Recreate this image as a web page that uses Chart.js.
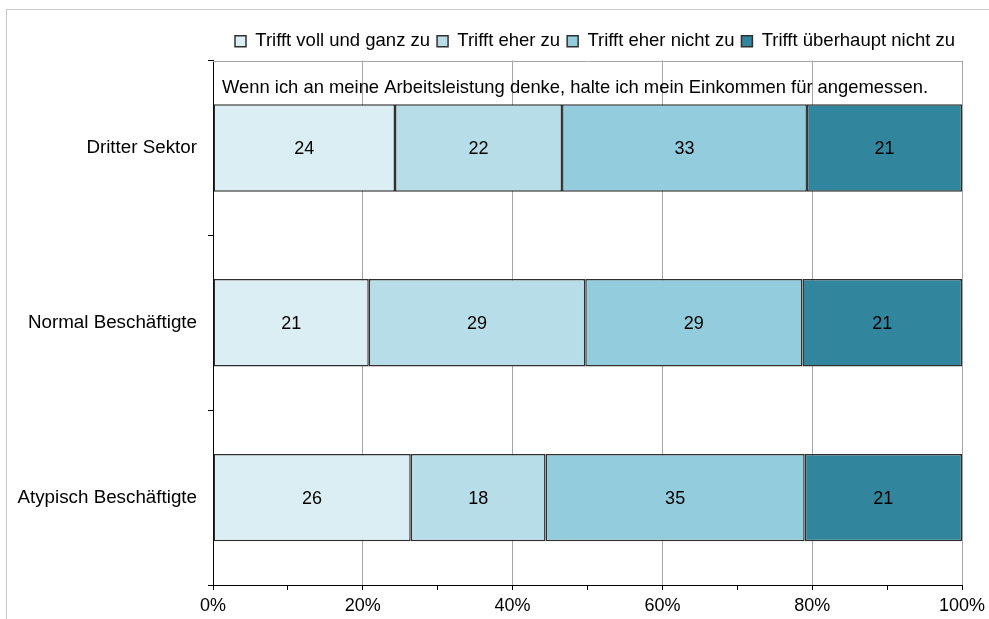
<!DOCTYPE html>
<html>
<head>
<meta charset="utf-8">
<script src="https://cdn.jsdelivr.net/npm/chart.js@4/dist/chart.umd.min.js"></script>
<style>
  html, body { margin: 0; padding: 0; background: #fff; }
  canvas { display: block; }
</style>
</head>
<body>
<canvas id="mycanvas" width="989" height="619"></canvas>
<script>
// categories and series (share in %)
var categories = ['Dritter Sektor', 'Normal Beschäftigte', 'Atypisch Beschäftigte'];
var seriesNames = ['Trifft voll und ganz zu', 'Trifft eher zu', 'Trifft eher nicht zu', 'Trifft überhaupt nicht zu'];
var vollUndGanz   = [24.3, 20.8, 26.4];
var eher          = [22.3, 28.9, 18.0];
var eherNicht     = [32.7, 29.0, 34.6];
var ueberhauptNicht = [20.7, 21.3, 21.0];
var seriesColors = ['#DBEEF3', '#B7DEE8', '#93CDDD', '#31859C'];
var xTicks = [0, 20, 40, 60, 80, 100];
var innerTitle = 'Wenn ich an meine Arbeitsleistung denke, halte ich mein Einkommen für angemessen.';

var FONT = '"Liberation Sans", Arial, sans-serif';

var seriesData = [vollUndGanz, eher, eherNicht, ueberhauptNicht];
var datasets = seriesNames.map(function(name, i) {
  return {
    label: name,
    data: seriesData[i],
    backgroundColor: seriesColors[i],
    borderColor: '#303030',
    borderWidth: 1.5,
    borderSkipped: false,
    barPercentage: 0.5,
    categoryPercentage: 1
  };
});

// frame, top border of plot area, inner title and value labels
var extras = {
  id: 'extras',
  beforeDraw: function(chart) {
    var c = chart.ctx;
    c.save();
    c.fillStyle = '#fff';
    c.fillRect(0, 0, chart.width, chart.height);
    c.strokeStyle = '#c8c8c8';
    c.lineWidth = 1;
    c.strokeRect(6.5, 9.5, chart.width + 20, chart.height + 20);
    c.restore();
  },
  beforeDatasetsDraw: function(chart) {
    var c = chart.ctx, a = chart.chartArea;
    c.save();
    c.strokeStyle = '#a6a6a6';
    c.lineWidth = 1;
    c.beginPath();
    c.moveTo(a.left, Math.round(a.top) + 0.5);
    c.lineTo(a.right, Math.round(a.top) + 0.5);
    c.stroke();
    c.restore();
  },
  afterDatasetsDraw: function(chart) {
    var c = chart.ctx, a = chart.chartArea;
    c.save();
    c.font = '18.4px ' + FONT;
    c.fillStyle = '#000';
    c.textBaseline = 'middle';
    c.textAlign = 'left';
    c.fillText(innerTitle, a.left + 9, a.top + 27);
    c.font = '18px ' + FONT;
    c.textAlign = 'center';
    chart.data.datasets.forEach(function(ds, di) {
      var meta = chart.getDatasetMeta(di);
      meta.data.forEach(function(bar, i) {
        c.fillText(String(Math.round(ds.data[i])), (bar.x + bar.base) / 2, bar.y + 1);
      });
    });
    c.restore();
  }
};

var ctx = document.getElementById('mycanvas');
var chart = new Chart(ctx, {
  type: 'bar',
  data: { labels: categories, datasets: datasets },
  plugins: [extras],
  options: {
    responsive: false,
    animation: false,
    indexAxis: 'y',
    layout: { padding: { left: 0, right: 27, top: 25, bottom: 0 } },
    plugins: {
      legend: {
        position: 'top',
        align: 'end',
        labels: {
          boxWidth: 11,
          boxHeight: 11,
          padding: 7,
          color: '#000',
          font: { family: FONT, size: 18.5 }
        }
      },
      tooltip: { enabled: false }
    },
    scales: {
      x: {
        stacked: true,
        min: 0,
        max: 100,
        afterFit: function(s) {
          s.height = 34;
          s.paddingLeft = 0;
          s.paddingRight = 0;
        },
        afterBuildTicks: function(s) {
          var t = [];
          for (var v = 0; v <= 100; v += 10) t.push({ value: v });
          s.ticks = t;
        },
        ticks: {
          autoSkip: false,
          maxRotation: 0,
          padding: 5,
          color: '#000',
          font: { family: FONT, size: 18 },
          callback: function(v) { return xTicks.indexOf(v) >= 0 ? v + '%' : ''; }
        },
        grid: {
          color: function(c) { return c.tick && xTicks.indexOf(c.tick.value) >= 0 ? '#a6a6a6' : 'rgba(0,0,0,0)'; },
          tickColor: '#000',
          tickLength: 5,
          lineWidth: 1
        },
        border: { display: true, color: '#000', width: 1 }
      },
      y: {
        stacked: true,
        afterFit: function(s) { s.width = 213; },
        ticks: {
          padding: 11,
          color: '#000',
          font: { family: FONT, size: 18.8 }
        },
        grid: {
          offset: true,
          drawOnChartArea: false,
          tickColor: '#000',
          tickLength: 5
        },
        border: { display: true, color: '#000', width: 1 }
      }
    }
  }
});
</script>
</body>
</html>
